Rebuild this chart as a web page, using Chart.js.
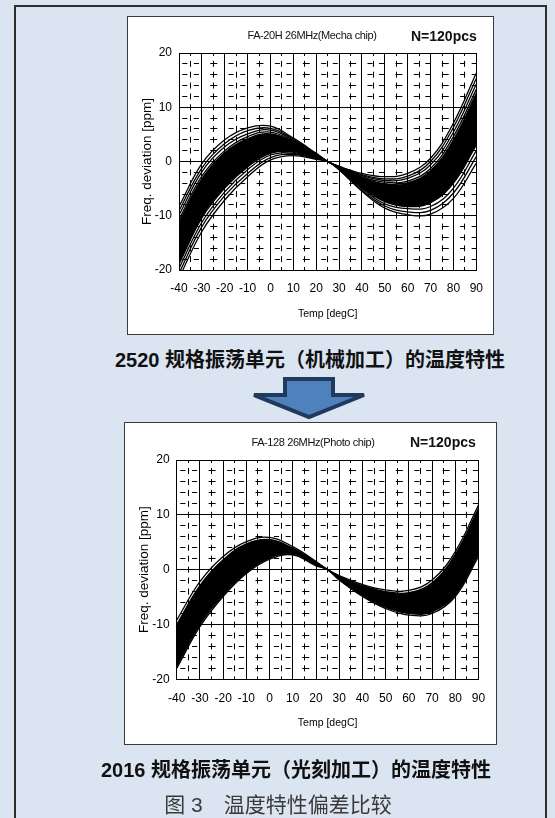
<!DOCTYPE html>
<html>
<head>
<meta charset="utf-8">
<script src="https://cdn.jsdelivr.net/npm/chart.js@4.4.1/dist/chart.umd.min.js"></script>
<style>
  html, body { margin: 0; padding: 0; }
  body { width: 555px; height: 818px; overflow: hidden; position: relative; background: #dbe5f1;
         font-family: "Liberation Sans", Arial, sans-serif; }
  .frame { position: absolute; left: 14px; top: 5px; width: 533px; height: 840px; box-sizing: border-box;
           border: 2px solid #2e2e2e; border-bottom: none; }
  .panel { position: absolute; background: #fff; box-sizing: border-box; border: 1px solid #3a3a3a; }
  canvas { position: absolute; }
  .ttl { position: absolute; font-size: 11px; letter-spacing: -0.4px; color: #111; white-space: nowrap;
         transform: translate(-50%, -50%); }
  .npcs { position: absolute; font-size: 14px; font-weight: bold; color: #111; white-space: nowrap;
          transform: translate(0, -50%); }
  .cap { position: absolute; white-space: nowrap; transform: translate(-50%, -50%);
         font-family: "Liberation Sans", "Noto Sans CJK SC", sans-serif; font-weight: bold; font-size: 20px; color: #111; }
  .fig { position: absolute; white-space: nowrap; transform: translate(-50%, -50%);
         font-family: "Liberation Sans", "Noto Sans CJK SC", sans-serif; font-size: 21px; color: #3a3a3a; }
  svg { position: absolute; left: 0; top: 0; }
</style>
</head>
<body>
<div class="frame"></div>

<div class="panel" style="left:127px; top:16px; width:367px; height:319px;"></div>
<canvas id="mecha" width="367" height="319" style="left:127px; top:16px;"></canvas>
<div class="ttl" style="left:312px; top:35px;">FA-20H 26MHz(Mecha chip)</div>
<div class="npcs" style="left:411px; top:36px;">N=120pcs</div>

<div class="cap" style="left:310px; top:358px;">2520 规格振荡单元（机械加工）的温度特性</div>

<svg width="555" height="818">
  <polygon points="285,379 333,379 333,395 364,395 309,417 254,395 285,395"
           fill="#4f81bd" stroke="#203a5e" stroke-width="4" stroke-linejoin="miter"/>
</svg>

<div class="panel" style="left:124px; top:422px; width:373px; height:323px;"></div>
<canvas id="photo" width="373" height="323" style="left:124px; top:422px;"></canvas>
<div class="ttl" style="left:313px; top:442px;">FA-128 26MHz(Photo chip)</div>
<div class="npcs" style="left:410px; top:442px;">N=120pcs</div>

<div class="cap" style="left:296px; top:768px;">2016 规格振荡单元（光刻加工）的温度特性</div>
<div class="fig" style="left:278px; top:803px;">图 3　温度特性偏差比较</div>

<script>
// Temperatures (degC) at which each curve is sampled
const temps = [-40, -30, -20, -10, 0, 10, 20, 25, 30, 40, 50, 60, 70, 80, 90];

// Axis ticks
const xMajorTicks = [-40, -30, -20, -10, 0, 10, 20, 30, 40, 50, 60, 70, 80, 90];
const xMinorTicks = [-35, -25, -15, -5, 5, 15, 25, 35, 45, 55, 65, 75, 85];
const yMajorTicks = [-20, -10, 0, 10, 20];
const yMinorTicks = [-18, -16, -14, -12, -8, -6, -4, -2, 2, 4, 6, 8, 12, 14, 16, 18];

// FA-20H (mechanically machined) frequency deviation, ppm
const mechaEdgeHigh = [-8.3, -0.4, 4.0, 6.2, 6.5, 4.3, 1.5, 0, -0.9, -2.2, -2.8, -2.2, 0.6, 7.1, 16.3];
const mechaHigh2    = [-9.1, -1.2, 3.3, 5.7, 6.1, 4.1, 1.4, 0, -0.9, -2.4, -3.2, -2.7, 0.0, 6.3, 15.3];
const mechaHigh3    = [-9.9, -1.9, 2.7, 5.1, 5.8, 3.9, 1.4, 0, -1.0, -2.6, -3.5, -3.1, -0.6, 5.4, 14.3];
const mechaHigh4    = [-10.7, -2.7, 2.0, 4.6, 5.4, 3.7, 1.3, 0, -1.0, -2.8, -3.8, -3.6, -1.3, 4.6, 13.3];
const mechaCoreHigh = [-11.2, -3.2, 1.6, 4.2, 5.1, 3.6, 1.3, 0, -1.0, -2.9, -4.1, -3.9, -1.7, 4.0, 12.6];
const mechaCoreLow  = [-18.9, -10.4, -4.9, -1.0, 1.5, 1.7, 0.6, 0, -1.4, -4.8, -7.4, -8.3, -7.6, -4.0, 3.0];
const mechaLow3     = [-19.7, -11.2, -5.6, -1.5, 1.2, 1.5, 0.5, 0, -1.4, -5.0, -7.8, -8.7, -8.3, -4.9, 2.0];
const mechaLow2     = [-20.6, -12.0, -6.3, -2.2, 0.7, 1.3, 0.5, 0, -1.5, -5.3, -8.2, -9.3, -9.0, -5.8, 0.9];
const mechaEdgeLow  = [-21.5, -12.9, -7.1, -2.8, 0.3, 1.1, 0.4, 0, -1.5, -5.5, -8.6, -9.8, -9.7, -6.8, -0.3];

// FA-128 (photolithography) frequency deviation, ppm
const photoEdgeHigh = [-9.2, -2.2, 2.4, 5.1, 5.9, 4.2, 1.5, 0, -1.1, -2.7, -3.7, -3.8, -1.9, 3.3, 11.8];
const photoCoreHigh = [-10.0, -2.9, 1.8, 4.7, 5.5, 3.9, 1.4, 0, -1.2, -2.9, -4.0, -4.2, -2.4, 2.8, 11.2];
const photoCoreLow  = [-17.6, -10.0, -4.6, -0.5, 2.1, 2.8, 0.8, 0, -1.8, -4.7, -6.9, -8.0, -7.7, -4.6, 2.8];
const photoEdgeLow  = [-18.0, -10.4, -4.9, -0.7, 1.9, 2.7, 0.7, 0, -1.9, -4.9, -7.1, -8.3, -8.0, -4.9, 2.4];

const FONT = '"Liberation Sans", Arial, sans-serif';

function curve(values, extra) {
  return Object.assign({
    data: temps.map((t, i) => ({ x: t, y: values[i] })),
    borderColor: '#000',
    borderWidth: 1.3,
    pointRadius: 0,
    tension: 0.4,
    fill: false
  }, extra || {});
}

function setTicks(list) {
  return scale => { scale.ticks = list.map(v => ({ value: v })); };
}

// Minor grid dashes: horizontal lines repeat every two 10-degree columns
// (two short dashes in one column, one centred dash in the next);
// vertical lines carry one short dash per 2 ppm row.
function hDash(colW) {
  const d = 0.22 * colW, c = 0.30 * colW;
  const g1 = 0.5 * colW - d;
  const g2 = 1.5 * colW - 0.75 * colW - d / 2 - c / 2;
  const g3 = 2 * colW - (2 * d + g1 + g2 + c);
  return { dash: [d, g1, d, g2, c, g3], offset: 2 * colW - (0.25 * colW - d / 2) };
}
function vDash(rowH) {
  const d = 0.55 * rowH;
  return { dash: [d, rowH - d], offset: d / 2 };
}

function buildScales(box) {
  const colW = box.plotW / 13, rowH = box.plotH / 20;
  const hd = hDash(colW), vd = vDash(rowH);
  return {
    x: {
      type: 'linear', position: 'bottom', min: -40, max: 90,
      afterBuildTicks: setTicks(xMajorTicks),
      afterFit: s => { s.height = box.xAxisHeight; },
      ticks: { autoSkip: false, maxRotation: 0, padding: box.xTickPad, color: '#000', font: { family: FONT, size: 12 } },
      grid: { color: '#000', lineWidth: 1, drawTicks: false },
      border: { display: true, color: '#000', width: 1 },
      title: { display: true, text: 'Temp [degC]', color: '#000', font: { family: FONT, size: 10.5 },
               padding: { top: 0, bottom: box.xTitlePad } }
    },
    y: {
      type: 'linear', position: 'left', min: -20, max: 20,
      afterBuildTicks: setTicks(yMajorTicks),
      afterFit: s => { s.width = box.yAxisWidth; },
      ticks: { padding: 7, color: '#000', font: { family: FONT, size: 12 } },
      grid: { color: '#000', lineWidth: 1, drawTicks: false },
      border: { display: true, color: '#000', width: 1 },
      title: { display: true, text: 'Freq. deviation [ppm]', color: '#000', font: { family: FONT, size: 13.5 },
               padding: { top: box.yTitlePad, bottom: 0 } }
    },
    xMinor: {
      type: 'linear', position: 'bottom', min: -40, max: 90,
      afterBuildTicks: setTicks(xMinorTicks),
      afterFit: s => { s.height = 0; },
      ticks: { display: false, autoSkip: false },
      grid: { color: '#000', lineWidth: 1, drawTicks: false },
      border: { display: false, dash: vd.dash, dashOffset: vd.offset }
    },
    yMinor: {
      type: 'linear', position: 'left', min: -20, max: 20,
      afterBuildTicks: setTicks(yMinorTicks),
      afterFit: s => { s.width = 0; },
      ticks: { display: false, autoSkip: false },
      grid: { color: '#000', lineWidth: 1, drawTicks: false },
      border: { display: false, dash: hd.dash, dashOffset: hd.offset }
    }
  };
}

function makeChart(id, datasets, box) {
  return new Chart(document.getElementById(id), {
    type: 'line',
    data: { datasets },
    options: {
      responsive: false,
      maintainAspectRatio: false,
      animation: false,
      devicePixelRatio: 1,
      layout: { padding: { top: box.padTop, right: box.padRight, left: 0, bottom: 0 } },
      plugins: { legend: { display: false }, tooltip: { enabled: false } },
      scales: buildScales(box)
    }
  });
}

makeChart('mecha', [
  curve(mechaEdgeHigh),
  curve(mechaHigh2),
  curve(mechaHigh3),
  curve(mechaHigh4),
  curve(mechaCoreHigh, { fill: '+1', backgroundColor: '#000' }),
  curve(mechaCoreLow),
  curve(mechaLow3),
  curve(mechaLow2),
  curve(mechaEdgeLow)
], { padTop: 37, padRight: 14, yAxisWidth: 52, xAxisHeight: 65, xTickPad: 11, xTitlePad: 14.5, yTitlePad: 12.4,
     plotW: 301, plotH: 217 });

makeChart('photo', [
  curve(photoEdgeHigh),
  curve(photoCoreHigh, { fill: '+1', backgroundColor: '#000' }),
  curve(photoCoreLow),
  curve(photoEdgeLow)
], { padTop: 38, padRight: 16, yAxisWidth: 52.7, xAxisHeight: 65.7, xTickPad: 11.8, xTitlePad: 16, yTitlePad: 11.9,
     plotW: 304.3, plotH: 219.3 });
</script>
</body>
</html>
